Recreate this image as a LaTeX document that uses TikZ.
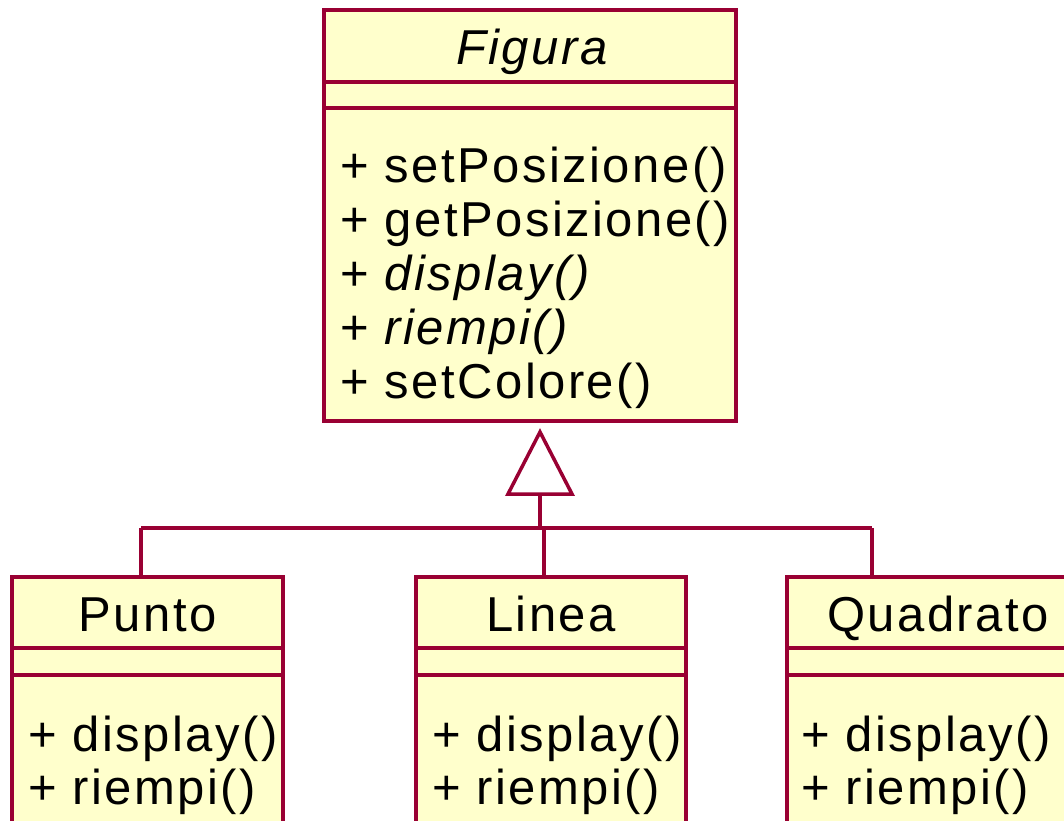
\documentclass[tikz,border=0pt]{standalone}
\usepackage{fontspec}
\setmainfont{Liberation Sans}[LetterSpace=5]
\usetikzlibrary{calc}
\definecolor{umlred}{RGB}{153,0,51}
\definecolor{umlfill}{RGB}{255,255,204}

\begin{document}
\begin{tikzpicture}[x=1pt,y=1pt,
    classbox/.style={draw=umlred,fill=umlfill,line width=3.5pt,inner sep=0pt,outer sep=0pt},
    umlline/.style={draw=umlred,line width=3.5pt},
    txt/.style={inner sep=0pt,font=\fontsize{49}{54}\selectfont}]
    \useasboundingbox (0,0) rectangle (1064,820);
    \clip (0,0) rectangle (1064,820);

    % Superclass
    \node[classbox,minimum width=412pt,minimum height=411pt] (figura) at (530,604.5) {};
    \draw[umlline] ($(figura.north west)+(0,-72)$) -- ($(figura.north east)+(0,-72)$);
    \draw[umlline] ($(figura.north west)+(0,-98)$) -- ($(figura.north east)+(0,-98)$);
    \node[txt,anchor=base] (figura-name) at (533,755) {\textit{Figura}};
    \foreach \op [count=\i] in {{+ setPosizione()},{+ getPosizione()},{+ \textit{display()}},{+ \textit{riempi()}},{+ setColore()}}
        \node[txt,anchor=base west] (figura-op\i) at (340,691-54*\i) {\op};

    % Subclasses
    \node[classbox,minimum width=271pt,minimum height=343pt] (punto) at (147.5,71.5) {};
    \node[classbox,minimum width=270pt,minimum height=343pt] (linea) at (551,71.5) {};
    \node[classbox,minimum width=302pt,minimum height=343pt] (quadrato) at (938,71.5) {};
    \foreach \cls/\name/\x in {punto/Punto/28,linea/Linea/432,quadrato/Quadrato/801} {
        \draw[umlline] ($(\cls.north west)+(0,-71)$) -- ($(\cls.north east)+(0,-71)$);
        \draw[umlline] ($(\cls.north west)+(0,-98)$) -- ($(\cls.north east)+(0,-98)$);
        \node[txt,anchor=base] (\cls-name) at (\cls.north |- 0,189) {\name};
        \node[txt,anchor=base west] (\cls-op1) at (\x,69) {+ display()};
        \node[txt,anchor=base west] (\cls-op2) at (\x,16) {+ riempi()};
    }

    % Generalization
    \coordinate (tip) at (540,388);
    \coordinate (stem) at (540,326);
    \coordinate (bus) at (540,292);
    \coordinate (bus-p) at (141,292);
    \coordinate (bus-l) at (544,292);
    \coordinate (bus-q) at (872,292);
    \draw[umlline,fill=white] (tip) -- ++(-32,-62) -- ++(64,0) -- cycle;
    \draw[umlline] (stem) -- (bus);
    \draw[umlline] (bus-p) -- (bus-q);
    \draw[umlline] (bus-p) -- (bus-p |- punto.north);
    \draw[umlline] (bus-l) -- (bus-l |- linea.north);
    \draw[umlline] (bus-q) -- (bus-q |- quadrato.north);
\end{tikzpicture}
\end{document}
